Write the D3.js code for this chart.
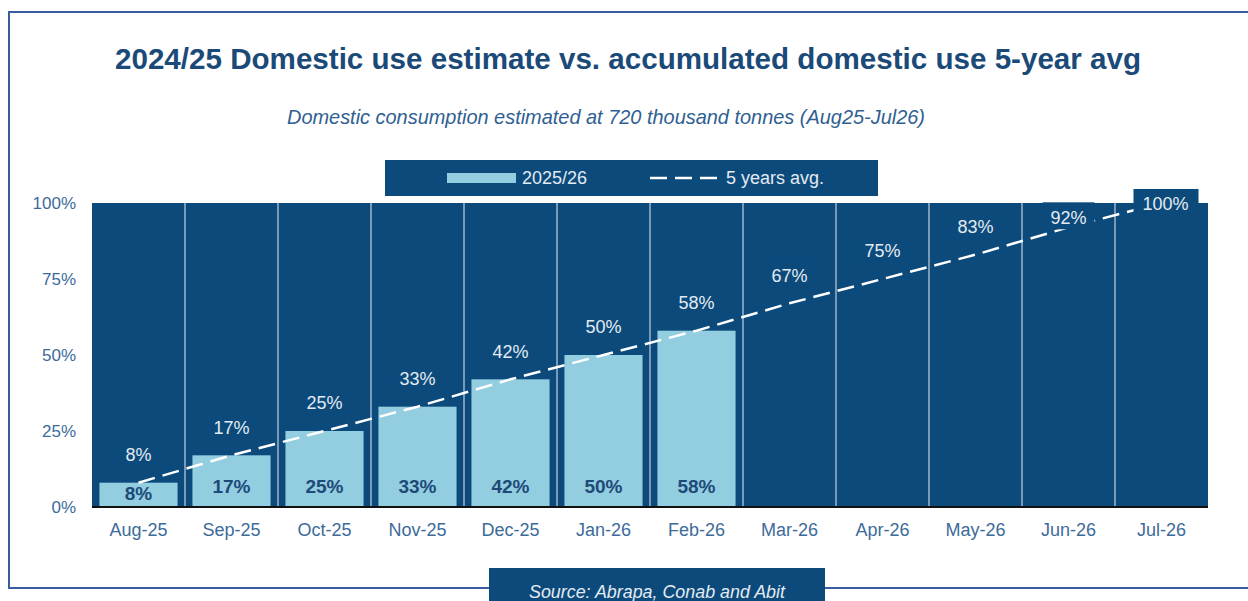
<!DOCTYPE html>
<html>
<head>
<meta charset="utf-8">
<script src="https://cdn.jsdelivr.net/npm/d3@7"></script>
<style>
  body { margin: 0; background: #fff; }
  svg { display: block; font-family: "Liberation Sans", Arial, sans-serif; }
</style>
</head>
<body>
<div id="container"></div>
<script>
// chart data
let months = ['Aug-25', 'Sep-25', 'Oct-25', 'Nov-25', 'Dec-25', 'Jan-26',
              'Feb-26', 'Mar-26', 'Apr-26', 'May-26', 'Jun-26', 'Jul-26'];
let current = [8, 17, 25, 33, 42, 50, 58];            // 2025/26
let avg5 = [8, 17, 25, 33, 42, 50, 58, 67, 75, 83, 92, 100]; // 5 years avg.
let yTicks = [0, 25, 50, 75, 100];

let w = 1248;
let h = 601;

let dark = '#0b4a7b';
let light = '#93cde0';
let txtLight = '#e4ebf2';
let axisCol = '#3d6b99';

let svg = d3.select('#container').append('svg')
            .attr('width', w)
            .attr('height', h);

// outer frame
svg.append('rect')
   .attr('x', 9).attr('y', 12)
   .attr('width', 1260).attr('height', 576)
   .attr('fill', 'none')
   .attr('stroke', '#3b5c9c')
   .attr('stroke-width', 2);

svg.append('text')
   .attr('x', 628).attr('y', 69)
   .attr('text-anchor', 'middle')
   .attr('fill', '#1b4a78')
   .attr('font-size', 29)
   .attr('font-weight', 'bold')
   .attr('textLength', 1026)
   .attr('lengthAdjust', 'spacingAndGlyphs')
   .text('2024/25 Domestic use estimate vs. accumulated domestic use 5-year avg');

svg.append('text')
   .attr('x', 606).attr('y', 124)
   .attr('text-anchor', 'middle')
   .attr('fill', '#2f6092')
   .attr('font-size', 21)
   .attr('font-style', 'italic')
   .attr('textLength', 638)
   .attr('lengthAdjust', 'spacingAndGlyphs')
   .text('Domestic consumption estimated at 720 thousand tonnes (Aug25-Jul26)');

let plotL = 92, plotR = 1208, plotT = 203, plotB = 507;

let x = d3.scaleBand()
          .domain(months)
          .range([plotL, plotR]);

let y = d3.scaleLinear()
          .domain([0, 100])
          .range([plotB, plotT]);

let bw = x.bandwidth();

// dark columns (full plot background)
svg.append('g')
   .selectAll('rect')
   .data(months)
   .enter()
   .append('rect')
   .attr('x', d => x(d))
   .attr('y', y(100))
   .attr('width', bw)
   .attr('height', y(0) - y(100))
   .attr('fill', dark);

// separators between columns
svg.append('g')
   .selectAll('line')
   .data(months.slice(1))
   .enter()
   .append('line')
   .attr('x1', d => x(d)).attr('x2', d => x(d))
   .attr('y1', y(100)).attr('y2', y(0))
   .attr('stroke', '#9fb4ca')
   .attr('stroke-width', 1.5);

// 2025/26 bars
svg.append('g')
   .selectAll('rect')
   .data(current)
   .enter()
   .append('rect')
   .attr('x', (d, i) => x(months[i]) + bw * 0.08)
   .attr('y', d => y(d))
   .attr('width', bw * 0.84)
   .attr('height', d => y(0) - y(d))
   .attr('fill', light);

// baseline
svg.append('line')
   .attr('x1', plotL).attr('x2', plotR)
   .attr('y1', y(0)).attr('y2', y(0))
   .attr('stroke', '#111')
   .attr('stroke-width', 2);

// bar labels (inside base)
svg.append('g')
   .selectAll('text')
   .data(current)
   .enter()
   .append('text')
   .attr('x', (d, i) => x(months[i]) + bw / 2)
   .attr('y', d => Math.max(y(0) - 21, y(d) + 11))
   .attr('dy', '0.35em')
   .attr('text-anchor', 'middle')
   .attr('fill', '#1d4a78')
   .attr('font-size', 19)
   .attr('font-weight', 'bold')
   .text(d => d + '%');

// 5 years avg line
let line = d3.line()
             .x((d, i) => x(months[i]) + bw / 2)
             .y(d => y(d));

svg.append('path')
   .datum(avg5)
   .attr('d', line)
   .attr('fill', 'none')
   .attr('stroke', '#fff')
   .attr('stroke-width', 2.5)
   .attr('stroke-dasharray', '17,8');

// avg labels
let avgY = d => {
  let p = y(d);
  return (p - 30 < plotT + 10) ? Math.max(p - 10, plotT + 1) : p - 28;
};

let avgLab = svg.append('g')
                .selectAll('g')
                .data(avg5)
                .enter()
                .append('g')
                .attr('transform', (d, i) => 'translate(' + (x(months[i]) + bw / 2) + ',' + avgY(d) + ')');

avgLab.append('rect')
      .attr('x', d => d === 100 ? -28 : -26)
      .attr('y', -15)
      .attr('width', d => d === 100 ? 65 : 52)
      .attr('height', 27)
      .attr('fill', (d, i) => i < current.length ? 'none' : dark);

avgLab.append('text')
      .attr('x', d => d === 100 ? 4 : 0)
      .attr('dy', '0.35em')
      .attr('text-anchor', 'middle')
      .attr('fill', txtLight)
      .attr('font-size', 18)
      .text(d => d + '%');

// y axis labels
svg.append('g')
   .selectAll('text')
   .data(yTicks)
   .enter()
   .append('text')
   .attr('x', 76)
   .attr('y', d => y(d))
   .attr('dy', '0.35em')
   .attr('text-anchor', 'end')
   .attr('fill', axisCol)
   .attr('font-size', 17)
   .text(d => d + '%');

// x axis labels
svg.append('g')
   .selectAll('text')
   .data(months)
   .enter()
   .append('text')
   .attr('x', d => x(d) + bw / 2)
   .attr('y', 530)
   .attr('dy', '0.35em')
   .attr('text-anchor', 'middle')
   .attr('fill', axisCol)
   .attr('font-size', 18)
   .text(d => d);

// legend
let leg = svg.append('g');
leg.append('rect')
   .attr('x', 385).attr('y', 160)
   .attr('width', 493).attr('height', 36)
   .attr('fill', dark);
leg.append('rect')
   .attr('x', 447).attr('y', 173)
   .attr('width', 69).attr('height', 10)
   .attr('fill', light);
leg.append('text')
   .attr('x', 522).attr('y', 178)
   .attr('dy', '0.35em')
   .attr('fill', txtLight)
   .attr('font-size', 18)
   .text('2025/26');
leg.append('line')
   .attr('x1', 650).attr('x2', 720)
   .attr('y1', 178).attr('y2', 178)
   .attr('stroke', '#fff')
   .attr('stroke-width', 2.5)
   .attr('stroke-dasharray', '17,8');
leg.append('text')
   .attr('x', 726).attr('y', 178)
   .attr('dy', '0.35em')
   .attr('fill', txtLight)
   .attr('font-size', 18)
   .text('5 years avg.');

// source box
svg.append('rect')
   .attr('x', 489).attr('y', 568)
   .attr('width', 336).attr('height', 40)
   .attr('fill', dark);
svg.append('text')
   .attr('x', 657).attr('y', 591)
   .attr('dy', '0.35em')
   .attr('text-anchor', 'middle')
   .attr('fill', txtLight)
   .attr('font-size', 19)
   .attr('font-style', 'italic')
   .attr('textLength', 256)
   .attr('lengthAdjust', 'spacingAndGlyphs')
   .text('Source: Abrapa, Conab and Abit');
</script>
</body>
</html>
